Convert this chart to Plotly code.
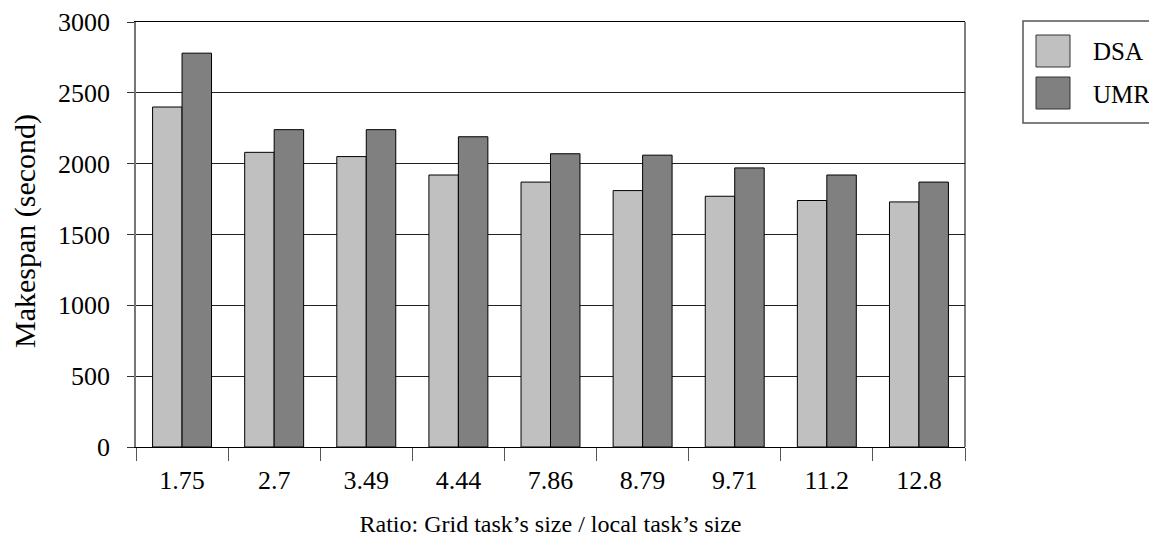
import plotly.graph_objects as go

categories = ["1.75", "2.7", "3.49", "4.44", "7.86", "8.79", "9.71", "11.2", "12.8"]
dsa = [2400, 2080, 2050, 1920, 1870, 1810, 1770, 1740, 1730]
umr = [2780, 2240, 2240, 2190, 2070, 2060, 1970, 1920, 1870]
series_names = ["DSA", "UMR"]
series_colors = ["#c0c0c0", "#808080"]
y_ticks = [0, 500, 1000, 1500, 2000, 2500, 3000]

OFF = 8  # default page body margin
W, H = 1157 - OFF, 544 - OFF
L, R, T, B = 136 - OFF, 965 - OFF, 22 - OFF, 447 - OFF
FONT = "Liberation Serif, Times New Roman, serif"

def px(xp):
    return (xp - OFF - L) / (R - L)

def py(yp):
    return (B - (yp - OFF)) / (B - T)

fig = go.Figure()
for name, vals, col in zip(series_names, [dsa, umr], series_colors):
    fig.add_trace(go.Bar(
        x=categories, y=vals, name=name,
        marker=dict(color=col, line=dict(color="#000000", width=1)),
        showlegend=False,
    ))

shapes = [
    dict(type="line", xref="paper", yref="paper", x0=1, x1=1, y0=0, y1=1,
         line=dict(color="#000000", width=1)),
    dict(type="rect", xref="paper", yref="paper",
         x0=px(1023), x1=px(1155), y0=py(123), y1=py(21),
         line=dict(color="#555555", width=1.5), fillcolor="white"),
]
annotations = []
sw_top = [35, 77]
for i, (name, col) in enumerate(zip(series_names, series_colors)):
    t = sw_top[i]
    shapes.append(dict(type="rect", xref="paper", yref="paper",
                       x0=px(1036), x1=px(1070), y0=py(t + 32), y1=py(t),
                       line=dict(color="#333333", width=1), fillcolor=col))
    annotations.append(dict(xref="paper", yref="paper", x=px(1091), y=py(t + 17),
                            text=name, showarrow=False, xanchor="left", yanchor="middle",
                            font=dict(family=FONT, size=25, color="#000000")))

annotations.append(dict(xref="paper", yref="paper", x=px(25), y=py(231),
                        text="Makespan (second)", textangle=-90, showarrow=False,
                        xanchor="center", yanchor="middle",
                        font=dict(family=FONT, size=30, color="#000000")))

fig.update_layout(
    width=W, height=H,
    margin=dict(l=L, r=W - R, t=T, b=H - B, autoexpand=False),
    paper_bgcolor="white", plot_bgcolor="white",
    barmode="group", bargap=0.36, bargroupgap=0,
    font=dict(family=FONT, size=26, color="#000000"),
    shapes=shapes, annotations=annotations,
    showlegend=False,
)
fig.update_xaxes(
    type="category", showline=True, linecolor="#000000", linewidth=1, mirror=True,
    ticks="outside", tickson="boundaries", ticklen=13, tickcolor="#555555", tickwidth=1,
    ticklabelstandoff=10,
    showgrid=False,
    title=dict(text="Ratio: Grid task’s size / local task’s size",
               font=dict(family=FONT, size=24), standoff=20),
    automargin=False,
)
fig.update_yaxes(
    range=[0, 3000], tickvals=y_ticks, showline=True, linecolor="#777777", linewidth=1.5,
    ticks="outside", ticklen=7, tickcolor="#333333", tickwidth=1,
    ticklabelstandoff=12,
    showgrid=True, gridcolor="#222222", gridwidth=1, zeroline=False,
    automargin=False,
)
fig.write_html("out.html")
